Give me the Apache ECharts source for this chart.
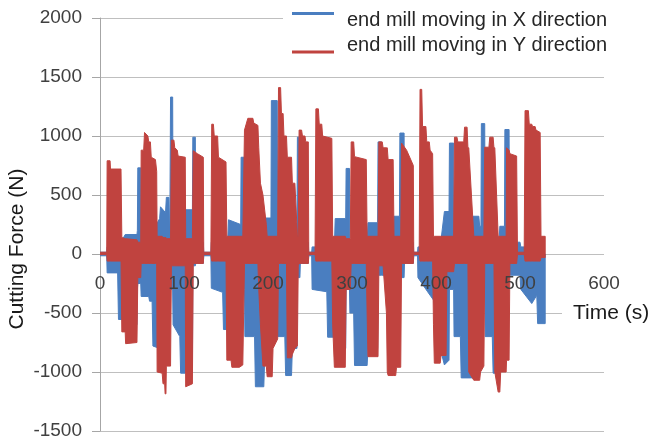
<!DOCTYPE html>
<html>
<head>
<meta charset="utf-8">
<script src="https://cdn.jsdelivr.net/npm/echarts@6/dist/echarts.min.js"></script>
<style>
  html, body { margin: 0; padding: 0; background: #ffffff; }
  #chart { width: 654px; height: 443px; }
</style>
</head>
<body>
<div id="chart"></div>
<script>
// Cutting force envelopes of the milling test.
// Each series is given as breakpoints: time (s), upper force (N), lower force (N).

// end mill moving in X direction
const xTime = [0, 8, 8.5, 21, 22, 30, 31, 44, 44.5, 45, 48.5, 49, 58, 59, 62, 63, 71, 72, 78, 79, 82, 83, 84, 86.5, 87, 95, 96, 101.5, 102, 110, 110.5, 113.5, 114, 123, 123.5, 132, 132.5, 146, 147, 152, 153, 167.5, 168, 172, 172.5, 184, 185, 195, 196, 203.5, 204, 211, 211.5, 220, 221, 228, 229, 234.5, 235, 238, 238.5, 248, 248.5, 252, 252.5, 270, 271, 279, 280, 292.5, 293, 297, 297.5, 302, 303, 318, 319, 330.5, 331, 335, 335.5, 349, 350, 356.5, 357, 362, 362.5, 373, 373.5, 378, 378.5, 390, 397, 400, 405, 410, 415.5, 416, 421, 421.5, 429, 430, 441, 442, 451, 452, 453.5, 454, 458, 458.5, 467, 468, 475, 476, 481.5, 482, 487, 487.5, 500, 501, 514, 520, 521, 530];
const xUpper = [15, 15, 60, 60, 60, 165, 165, 165, 200, 730, 730, 100, 100, 100, 100, 200, 300, 400, 350, 480, 480, 100, 1330, 1330, 100, 100, 100, 100, 375, 375, 990, 990, 100, 100, 15, 15, 100, 100, 100, 100, 290, 250, 820, 820, 100, 100, 100, 100, 305, 305, 1300, 1300, 100, 100, 100, 100, 305, 250, 990, 990, 100, 100, 15, 15, 60, 60, 60, 60, 300, 300, 725, 725, 100, 100, 100, 100, 265, 265, 950, 950, 100, 100, 320, 320, 1025, 1025, 100, 100, 15, 15, 60, 60, 60, 60, 60, 360, 360, 940, 940, 100, 100, 100, 100, 320, 320, 235, 235, 1105, 1105, 100, 100, 100, 100, 235, 235, 1055, 1055, 100, 100, 60, 60, 60, 0, 0];
const xLower = [-15, -15, -160, -160, -555, -555, -600, -600, -300, -250, -250, -360, -360, -400, -400, -780, -800, -800, -800, -800, -800, -300, -300, -300, -600, -700, -1010, -1010, -1000, -1000, -100, -100, -80, -80, -15, -15, -290, -325, -640, -640, -680, -680, -300, -300, -700, -700, -1125, -1125, -900, -900, -300, -300, -700, -700, -1030, -1030, -800, -800, -200, -200, -80, -80, -15, -15, -300, -320, -705, -705, -800, -800, -300, -300, -500, -500, -945, -945, -800, -800, -180, -180, -180, -180, -900, -900, -200, -200, -80, -80, -15, -15, -200, -320, -390, -520, -800, -940, -900, -300, -300, -700, -700, -1050, -1050, -1050, -1050, -900, -900, -300, -300, -700, -700, -1010, -1010, -900, -900, -200, -200, -180, -180, -300, -420, -350, -590, -590];

// end mill moving in Y direction
const yTime = [0, 8, 8.5, 12, 12.5, 25, 26, 30, 30.5, 44, 45, 48.5, 49, 52, 53, 57, 58, 60, 61, 66, 67.5, 68, 74, 75, 77, 77.5, 78.5, 79, 84, 85, 88, 89, 92, 93, 101.5, 102, 110, 111, 116, 123, 123.5, 132, 133, 135, 136, 140, 141, 150, 151, 156, 157, 166, 170, 172, 176, 182, 183, 188, 189, 191, 194, 198, 199, 205, 206, 211.5, 212.5, 215, 216, 218, 219, 222, 223, 228, 229, 232, 235, 236, 237, 240, 241, 244, 245, 248, 248.5, 256, 257, 260, 261, 264, 265, 276, 277, 279, 292, 293, 298, 299, 302, 303, 317, 318, 319, 331, 332, 336, 337, 341, 342, 343, 349, 350, 352, 353, 358, 359, 365, 373, 373.5, 380, 381, 383, 384, 388, 389, 392, 393, 396, 397, 398, 405, 406, 412, 413, 421, 422, 425, 426, 433, 434, 437, 438, 439, 445, 452, 453, 457, 458, 463, 464, 468, 469, 470, 474, 476, 477, 483.5, 484, 487, 488, 496, 497, 505, 506, 510, 511, 514, 515, 518, 519, 524, 525, 530];
const yUpper = [15, 15, 790, 790, 720, 720, 140, 130, 130, 120, 100, 100, 880, 880, 1030, 1000, 950, 950, 820, 800, 700, 150, 150, 140, 140, 140, 140, 130, 130, 965, 965, 900, 880, 830, 820, 130, 130, 875, 850, 820, 15, 15, 1100, 1100, 1000, 1000, 820, 780, 150, 150, 150, 150, 150, 1050, 1150, 1150, 1110, 1090, 900, 600, 500, 250, 150, 150, 150, 150, 1410, 1410, 1190, 1190, 1000, 1000, 820, 820, 600, 600, 150, 150, 1050, 1050, 1000, 1000, 950, 950, 15, 15, 1230, 1230, 1100, 1100, 1000, 980, 150, 150, 150, 130, 130, 950, 950, 825, 800, 150, 150, 150, 950, 950, 900, 900, 900, 800, 800, 150, 150, 150, 150, 940, 880, 750, 15, 15, 1395, 1395, 1080, 1080, 950, 950, 880, 850, 150, 150, 150, 150, 150, 150, 150, 990, 990, 950, 950, 1075, 1075, 900, 900, 150, 150, 150, 150, 905, 905, 990, 990, 900, 900, 150, 150, 150, 150, 900, 880, 850, 830, 15, 15, 1215, 1215, 1100, 1100, 1080, 1080, 1050, 1030, 150, 150];
const yLower = [-5, -5, -60, -60, -60, -60, -660, -660, -760, -750, -200, -200, -80, -80, -80, -80, -80, -80, -80, -80, -80, -1000, -1010, -1100, -1100, -1185, -1185, -950, -950, -100, -100, -100, -100, -100, -100, -1125, -1100, -80, -80, -80, -5, -5, -60, -60, -60, -60, -60, -60, -900, -900, -960, -960, -940, -80, -80, -80, -80, -80, -300, -600, -950, -950, -1040, -1040, -800, -720, -80, -80, -80, -80, -80, -80, -880, -880, -850, -800, -780, -100, -80, -80, -80, -80, -80, -80, -5, -5, -60, -60, -60, -60, -60, -60, -600, -960, -960, -300, -300, -80, -80, -80, -80, -500, -870, -870, -100, -100, -100, -500, -1000, -1030, -1030, -1030, -1030, -960, -960, -80, -80, -80, -5, -5, -60, -60, -60, -60, -60, -60, -60, -60, -600, -925, -925, -860, -860, -150, -150, -80, -80, -80, -80, -80, -80, -80, -1000, -1070, -1070, -1000, -950, -80, -80, -80, -80, -80, -1000, -1170, -1170, -1000, -1000, -900, -900, -80, -80, -5, -5, -60, -60, -60, -60, -60, -60, -60, -60, -30, -30];

const seriesNames = ['end mill moving in X direction', 'end mill moving in Y direction'];
const seriesColors = ['#4A7EC0', '#C0433F'];

const yAxisTitle = 'Cutting Force (N)';
const xAxisTitle = 'Time (s)';

// Legend swatches: a short thick line, the X one sitting high and the Y one low in its slot.
const legendIcons = [
  'path://M0,2L42,2L42,5L0,5Z M0,0L0.1,0L0.1,0.1Z M41.9,19.9L42,19.9L42,20L41.9,20Z',
  'path://M0,15.5L42,15.5L42,18.5L0,18.5Z M0,0L0.1,0L0.1,0.1Z M41.9,19.9L42,19.9L42,20L41.9,20Z'
];

// A filled band between the upper and lower envelope of one force signal.
function forceBand(name, color, T, HI, LO) {
  return {
    name: name,
    type: 'custom',
    coordinateSystem: 'cartesian2d',
    data: T.map(function (t, i) { return [t, HI[i], LO[i]]; }),
    encode: { x: 0, y: [1, 2] },
    itemStyle: { color: color },
    clip: true,
    renderItem: function (params, api) {
      if (params.dataIndex !== 0) return null;
      const upper = [];
      const lower = [];
      for (let i = 0; i < T.length; i++) {
        upper.push(api.coord([T[i], HI[i]]));
        lower.push(api.coord([T[i], LO[i]]));
      }
      return {
        type: 'polygon',
        shape: { points: upper.concat(lower.reverse()) },
        style: { fill: color, stroke: color, lineWidth: 1 }
      };
    }
  };
}

const chart = echarts.init(document.getElementById('chart'), null, { renderer: 'canvas' });

const labelFont = 'Liberation Sans, Arial, sans-serif';

// plot area: y from 18 px (2000 N) to 431 px (-1500 N); the time labels hang under the zero line
const gridTop = 18;
const gridBottom = 12;
const plotHeight = 443 - gridTop - gridBottom;
const zeroFromBottom = plotHeight * 1500 / 3500;

chart.setOption({
  animation: false,
  backgroundColor: '#ffffff',
  grid: { left: 100, right: 50, top: gridTop, bottom: gridBottom, containLabel: false },
  legend: {
    orient: 'vertical',
    left: 283,
    top: 0,
    padding: [10, 24, 8, 9],
    itemGap: 5,
    itemWidth: 42,
    itemHeight: 20,
    backgroundColor: '#ffffff',
    data: seriesNames.map(function (n, i) { return { name: n, icon: legendIcons[i] }; }),
    textStyle: { fontFamily: labelFont, fontSize: 20, color: '#262626', lineHeight: 20, padding: [0, 0, 0, 8] }
  },
  xAxis: {
    type: 'value',
    min: 0,
    max: 600,
    interval: 100,
    z: 10,
    offset: -zeroFromBottom,
    axisLine: { show: true, onZero: false, lineStyle: { color: 'rgba(0,0,0,0)', width: 1 } },
    axisTick: { show: false },
    splitLine: { show: false },
    axisLabel: { fontFamily: labelFont, fontSize: 19, color: '#404040', margin: 20 }
  },
  yAxis: {
    type: 'value',
    min: -1500,
    max: 2000,
    interval: 500,
    axisLine: { show: true, onZero: false, lineStyle: { color: '#a6a6a6', width: 1 } },
    axisTick: { show: true, length: 8, lineStyle: { color: '#a6a6a6' } },
    splitLine: { show: true, lineStyle: { color: '#bfbfbf', width: 1 } },
    axisLabel: {
      fontFamily: labelFont, fontSize: 19, color: '#404040', margin: 18,
      formatter: function (v) { return String(v); }
    }
  },
  graphic: [
    {
      type: 'text',
      x: 17,
      y: 249,
      rotation: Math.PI / 2,
      style: { text: yAxisTitle, fontFamily: labelFont, fontSize: 21, fill: '#1a1a1a', align: 'center', verticalAlign: 'middle' }
    },
    {
      type: 'text',
      x: 562,
      y: 313,
      z: 100,
      style: { text: xAxisTitle, fontFamily: labelFont, fontSize: 21, fill: '#1a1a1a', align: 'left', verticalAlign: 'middle',
               backgroundColor: '#ffffff', padding: [4, 6, 4, 11] }
    }
  ],
  series: [
    forceBand(seriesNames[0], seriesColors[0], xTime, xUpper, xLower),
    forceBand(seriesNames[1], seriesColors[1], yTime, yUpper, yLower)
  ]
});
</script>
</body>
</html>
